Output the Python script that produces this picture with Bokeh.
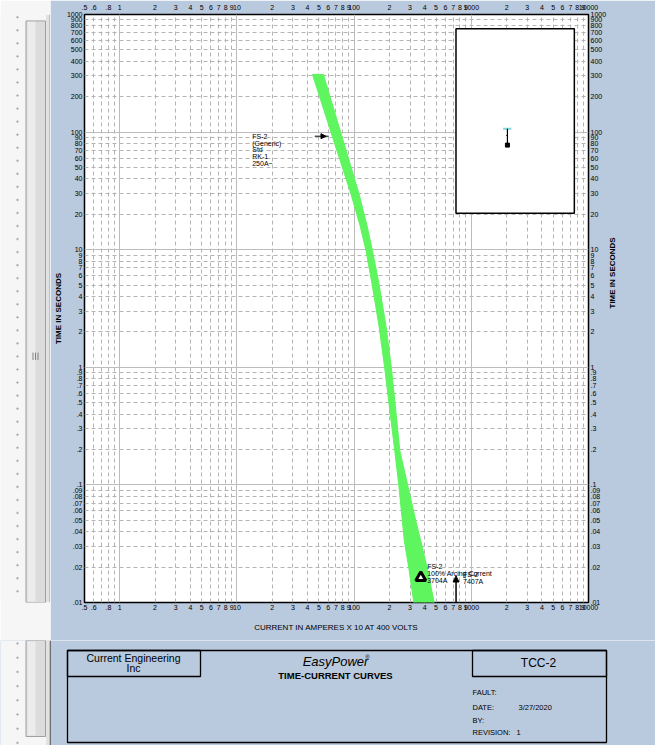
import numpy as np
from bokeh.plotting import figure
from bokeh.models import (Range1d, LogAxis, FixedTicker, Grid, Label, Arrow,
                          NormalHead, AllLabels)
from bokeh.layouts import column, row
from bokeh.embed import file_html
from bokeh.resources import INLINE
from bokeh.core.properties import value

# ---------------- data ----------------
x_ticks = [0.5, 0.6, 0.8, 1, 2, 3, 4, 5, 6, 7, 8, 9,
           10, 20, 30, 40, 50, 60, 70, 80, 90,
           100, 200, 300, 400, 500, 600, 700, 800, 900,
           1000, 2000, 3000, 4000, 5000, 6000, 7000, 8000, 9000, 10000]
x_tick_labels = [".5", ".6", ".8", "1", "2", "3", "4", "5", "6", "7", "8", "9",
                 "10", "2", "3", "4", "5", "6", "7", "8", "9",
                 "100", "2", "3", "4", "5", "6", "7", "8", "9",
                 "1000", "2", "3", "4", "5", "6", "7", "8", "9", "10000"]
x_major_grid = [1, 10, 100, 1000]
x_minor_grid = [0.6, 0.7, 0.8, 0.9, 2, 3, 4, 5, 6, 7, 8, 9,
                20, 30, 40, 50, 60, 70, 80, 90,
                200, 300, 400, 500, 600, 700, 800, 900,
                2000, 3000, 4000, 5000, 6000, 7000, 8000, 9000]

y_ticks = [0.01, 0.02, 0.03, 0.04, 0.05, 0.06, 0.07, 0.08, 0.09,
           0.1, 0.2, 0.3, 0.4, 0.5, 0.6, 0.7, 0.8, 0.9,
           1, 2, 3, 4, 5, 6, 7, 8, 9,
           10, 20, 30, 40, 50, 60, 70, 80, 90,
           100, 200, 300, 400, 500, 600, 700, 800, 900, 1000]
y_tick_labels = [".01", ".02", ".03", ".04", ".05", ".06", ".07", ".08", ".09",
                 ".1", ".2", ".3", ".4", ".5", ".6", ".7", ".8", ".9",
                 "1", "2", "3", "4", "5", "6", "7", "8", "9",
                 "10", "20", "30", "40", "50", "60", "70", "80", "90",
                 "100", "200", "300", "400", "500", "600", "700", "800", "900", "1000"]
y_major_grid = [0.1, 1, 10, 100]
y_minor_grid = [0.02, 0.03, 0.04, 0.05, 0.06, 0.07, 0.08, 0.09,
                0.2, 0.3, 0.4, 0.5, 0.6, 0.7, 0.8, 0.9,
                2, 3, 4, 5, 6, 7, 8, 9,
                20, 30, 40, 50, 60, 70, 80, 90,
                200, 300, 400, 500, 600, 700, 800, 900]

# FS-2 fuse band (current x10 A, time s)
band_t = [309, 100, 29.9, 16.1, 9.84, 5.16, 2.27, 1.0, 0.429, 0.196, 0.099,
          0.0498, 0.0336, 0.0198, 0.0098]
minmelt_I = [44.1, 63.4, 93.8, 112.2, 126.2, 141.9, 162.7, 182, 201.7, 222, 240.6,
             257.6, 267.8, 292.4, 324]
totclear_I = [54.7, 76.7, 110.0, 128.7, 143.3, 162.7, 186.6, 207.7, 226.8, 245.3, 286.8,
              335.4, 369.8, 419.9, 484]

arc_current = [370.4]
arc_time = [0.0163]
bolted_current = 740.7
bolted_arrow_t = [0.01, 0.0168]

BLUE = "#b9c9de"
GREEN = "#5ef55e"
FONT = "Liberation Sans"

# ---------------- main TCC figure ----------------
p = figure(width=605, height=640, x_axis_type="log", y_axis_type="log",
           x_range=Range1d(0.5, 10000), y_range=Range1d(0.01, 1000),
           output_backend="svg", toolbar_location=None,
           min_border_left=30, min_border_right=67, min_border_top=14, min_border_bottom=38)
p.background_fill_color = "white"
p.border_fill_color = BLUE
p.outline_line_color = "black"
p.outline_line_width = 1.5
p.xgrid.visible = False
p.ygrid.visible = False


def style_axis(ax, ticks, labels):
    ax.ticker = FixedTicker(ticks=ticks, minor_ticks=[])
    ax.major_label_overrides = {float(v): s for v, s in zip(ticks, labels)}
    ax.major_label_policy = AllLabels()
    ax.major_tick_out = 0
    ax.major_tick_in = 0
    ax.minor_tick_out = 0
    ax.minor_tick_in = 0
    ax.axis_line_color = None
    ax.major_label_text_font = FONT
    ax.major_label_text_font_size = "7px"
    ax.major_label_text_color = "black"
    ax.major_label_standoff = 2
    ax.axis_label_text_font = FONT
    ax.axis_label_text_font_size = "8px"
    ax.axis_label_text_font_style = "normal"
    ax.axis_label_text_color = "black"


style_axis(p.xaxis[0], x_ticks, x_tick_labels)
p.xaxis[0].axis_label = "CURRENT IN AMPERES X 10 AT 400 VOLTS"
p.xaxis[0].axis_label_standoff = 10
style_axis(p.yaxis[0], y_ticks, y_tick_labels)
p.yaxis[0].axis_label = "TIME IN SECONDS"
p.yaxis[0].axis_label_standoff = 1
p.yaxis[0].axis_label_text_font_style = "bold"

top_ax = LogAxis()
style_axis(top_ax, x_ticks, x_tick_labels)
top_ax.major_label_standoff = 5
p.add_layout(top_ax, "above")

right_ax = LogAxis()
style_axis(right_ax, y_ticks, y_tick_labels)
right_ax.axis_label = "TIME IN SECONDS"
right_ax.axis_label_standoff = 3
right_ax.axis_label_text_font_style = "bold"
if "axis_label_orientation" in right_ax.properties():
    right_ax.axis_label_orientation = float(np.pi / 2)
p.add_layout(right_ax, "right")

for dim, ticks, dash, col in [(0, x_minor_grid, "4 3", "#b4b4b4"),
                              (1, y_minor_grid, "4 3", "#b4b4b4"),
                              (0, x_major_grid, "solid", "#bcbcbc"),
                              (1, y_major_grid, "solid", "#bcbcbc")]:
    g = Grid(dimension=dim, ticker=FixedTicker(ticks=ticks, minor_ticks=[]),
             grid_line_color=col, grid_line_dash=dash, grid_line_width=1)
    p.add_layout(g)

# fuse band
p.patch(minmelt_I + totclear_I[::-1], band_t + band_t[::-1],
        fill_color=GREEN, line_color=GREEN, line_width=1)

# device label with arrow
p.add_layout(Label(x=13.5, y=98, text="FS-2\n(Generic)\nStd\nRK-1\n250A~",
                   text_font=FONT, text_font_size="7px", text_line_height=0.95,
                   text_baseline="top", text_align="left", text_color="black"))
p.add_layout(Arrow(end=NormalHead(size=5, fill_color="black", line_color="black"),
                   x_start=46.1, y_start=92.3, x_end=57.5, y_end=92.3,
                   line_color="black", line_width=1))
p.segment(x0=[57.5], y0=[92.3], x1=[60.6], y1=[92.3], line_color="black", line_width=1)

# arcing current marker
p.scatter(arc_current, arc_time, marker="triangle", size=10,
          fill_color="white", line_color="black", line_width=3)
p.add_layout(Label(x=420, y=0.0215, text="FS-2\n100% Arcing Current\n3704A",
                   text_font=FONT, text_font_size="7px", text_line_height=0.95,
                   text_baseline="top", text_align="left", text_color="black"))

# bolted fault arrow
p.add_layout(Arrow(end=NormalHead(size=6, fill_color="black", line_color="black"),
                   x_start=bolted_current, y_start=bolted_arrow_t[0],
                   x_end=bolted_current, y_end=bolted_arrow_t[1],
                   line_color="black", line_width=1.5))
p.add_layout(Label(x=849, y=0.0184, text="FS-2\n7407A",
                   text_font=FONT, text_font_size="7px", text_line_height=0.95,
                   text_baseline="top", text_align="left", text_color="black"))

# one-line inset
p.quad(left=[740], right=[7570], bottom=[20.4], top=[755],
       fill_color="white", line_color="black", line_width=1.5)
p.segment(x0=[1866], y0=[106.6], x1=[2198], y1=[106.6], line_color="#7fd8e0", line_width=2)
p.segment(x0=[2033], y0=[106.6], x1=[2033], y1=[76], line_color="black", line_width=1.2)
p.segment(x0=[1985], y0=[93.5], x1=[2033], y1=[93.5], line_color="black", line_width=1)
p.scatter([2033], [77.5], marker="square", size=4, color="black")

# ---------------- left strip (scroll bar) ----------------
s = figure(width=50, height=640, x_range=Range1d(0, 50), y_range=Range1d(640, 0),
           output_backend="svg", toolbar_location=None, min_border=0)
s.axis.visible = False
s.grid.visible = False
s.outline_line_color = None
s.background_fill_color = "#f6f6f6"
s.border_fill_color = "#f6f6f6"


def draw_strip(f, y0, y1, top_cap, bot_cap):
    f.quad(left=[45.5], right=[50], bottom=[y1], top=[y0], fill_color="#e2e2e2", line_color=None)
    f.quad(left=[49.2], right=[50.5], bottom=[y1], top=[y0], fill_color="#6e6e6e", line_color=None)
    t = 7 if top_cap else y0
    b = 736 if bot_cap else y1
    f.quad(left=[25.5], right=[45], bottom=[b], top=[t], fill_color="#dcdcdc",
           line_color="#a0a0a0", line_width=1)
    f.quad(left=[27], right=[35], bottom=[b - 1], top=[t + 1], fill_color="#ececec", line_color=None)
    dots_y = np.arange(y0 + 3, y1, 14.2)
    f.scatter(np.full(len(dots_y), 17.0), dots_y, marker="circle", size=1.6,
              color="#b0b0b0")


draw_strip(s, 0, 640, True, False)
for gx in (32.5, 35, 37.5):
    s.segment(x0=[gx], y0=[368], x1=[gx], y1=[376], line_color="#808080", line_width=1)

# ---------------- bottom title block ----------------
b = figure(width=655, height=105, x_range=Range1d(0, 655), y_range=Range1d(745, 640),
           output_backend="svg", toolbar_location=None, min_border=0)
b.axis.visible = False
b.grid.visible = False
b.outline_line_color = None
b.background_fill_color = BLUE
b.border_fill_color = BLUE
b.quad(left=[0], right=[50.5], bottom=[745], top=[640], fill_color="#f6f6f6", line_color=None)
draw_strip(b, 640, 745, False, True)

b.quad(left=[67, 67, 472], right=[606, 200, 606], top=[650, 650, 650], bottom=[742, 676, 676],
       fill_color=None, line_color="black", line_width=1.3)

b.text(x=[133, 133], y=[657, 667], text=["Current Engineering", "Inc"],
       text_font=value(FONT), text_font_size="10.5px", text_align="center",
       text_baseline="middle", text_color="black")
b.text(x=[335], y=[661], text=["EasyPower"], text_font=value(FONT),
       text_font_size="13px", text_font_style="italic", text_align="center",
       text_baseline="middle", text_color="black")
b.text(x=[367], y=[656], text=["®"], text_font=value(FONT),
       text_font_size="6px", text_align="center", text_baseline="middle", text_color="black")
b.text(x=[335], y=[675], text=["TIME-CURRENT CURVES"], text_font=value(FONT),
       text_font_size="9.5px", text_font_style="bold", text_align="center",
       text_baseline="middle", text_color="black")
b.text(x=[538], y=[662], text=["TCC-2"], text_font=value(FONT),
       text_font_size="12px", text_align="center", text_baseline="middle", text_color="black")
b.text(x=[472, 472, 518, 472, 472, 516], y=[692, 707, 707, 720, 732, 732],
       text=["FAULT:", "DATE:", "3/27/2020", "BY:", "REVISION:", "1"],
       text_font=value(FONT), text_font_size="7.5px", text_align="left",
       text_baseline="middle", text_color="black")

layout = column(row(s, p), b)
open("out.html", "w").write(file_html(layout, INLINE))
